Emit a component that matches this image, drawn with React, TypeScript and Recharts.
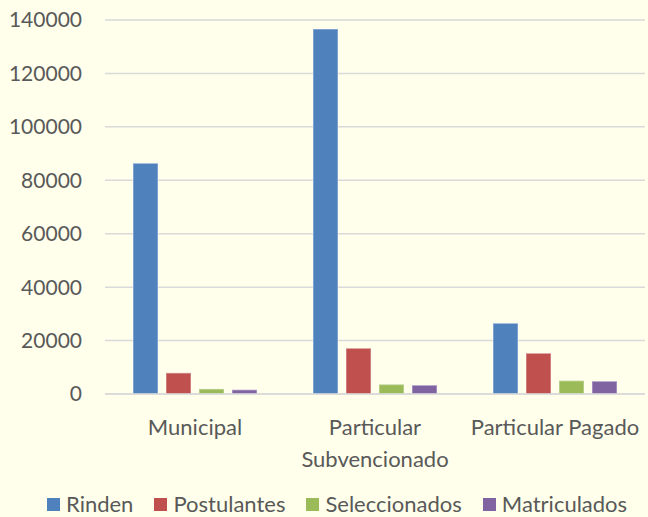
import { BarChart, Bar, XAxis, YAxis, CartesianGrid, Legend } from 'recharts';

const categories = ['Municipal', 'Particular Subvencionado', 'Particular Pagado'];
const tickLines = [['Municipal'], ['Particular', 'Subvencionado'], ['Particular Pagado']];
const rinden = [86400, 136600, 26500];
const postulantes = [7900, 17100, 15300];
const seleccionados = [1900, 3600, 5000];
const matriculados = [1600, 3300, 4800];
const yTicks = [0, 20000, 40000, 60000, 80000, 100000, 120000, 140000];

const series = [
  { key: 'rinden', name: 'Rinden', color: '#4F81BD' },
  { key: 'postulantes', name: 'Postulantes', color: '#C0504D' },
  { key: 'seleccionados', name: 'Seleccionados', color: '#9BBB59' },
  { key: 'matriculados', name: 'Matriculados', color: '#8064A2' },
];

const data = categories.map((name, i) => ({
  name,
  rinden: rinden[i],
  postulantes: postulantes[i],
  seleccionados: seleccionados[i],
  matriculados: matriculados[i],
}));

const FONT = 'Lato, sans-serif';
const TEXT = '#595959';

const CategoryTick = ({ x, y, index }: any) => {
  const lines = tickLines[index] || [];
  return (
    <text x={x} y={y} textAnchor="middle" fill={TEXT} fontSize={22} fontFamily={FONT}>
      {lines.map((line, i) => (
        <tspan key={i} x={x} dy={i === 0 ? 41 : 32}>
          {line}
        </tspan>
      ))}
    </text>
  );
};

const LegendContent = () => (
  <div
    style={{
      height: 33,
      display: 'flex',
      alignItems: 'flex-end',
      paddingLeft: 47,
      fontFamily: FONT,
      fontSize: 22,
      color: TEXT,
    }}
  >
    {series.map((s) => (
      <div key={s.key} style={{ display: 'flex', alignItems: 'center', lineHeight: '26px', marginRight: 21 }}>
        <span style={{ width: 13, height: 13, background: s.color, display: 'inline-block', marginRight: 6 }} />
        <span>{s.name}</span>
      </div>
    ))}
  </div>
);

export default function App() {
  return (
    <div style={{ position: 'absolute', left: 0, top: 0, width: 648, height: 517, background: '#FFFFEB' }}>
      <BarChart
        width={648}
        height={517}
        data={data}
        margin={{ top: 20, right: 3, left: 0, bottom: 0 }}
        barGap={8}
        barCategoryGap={28}
      >
        <CartesianGrid vertical={false} stroke="#D9D9D9" strokeWidth={1.5} />
        <XAxis
          dataKey="name"
          height={90}
          axisLine={{ stroke: '#D9D9D9', strokeWidth: 1.5 }}
          tickLine={false}
          tickSize={0}
          tickMargin={0}
          interval={0}
          tick={<CategoryTick />}
        />
        <YAxis
          width={105}
          domain={[0, 140000]}
          ticks={yTicks}
          axisLine={false}
          tickLine={false}
          tickSize={6}
          tickMargin={17}
          tick={{ fill: TEXT, fontSize: 21, fontFamily: FONT }}
        />
        <Legend verticalAlign="bottom" content={<LegendContent />} />
        {series.map((s) => (
          <Bar
            key={s.key}
            dataKey={s.key}
            name={s.name}
            fill={s.color}
            stroke="#FFFFFF"
            strokeOpacity={0.35}
            strokeWidth={1.5}
            isAnimationActive={false}
          />
        ))}
      </BarChart>
    </div>
  );
}
